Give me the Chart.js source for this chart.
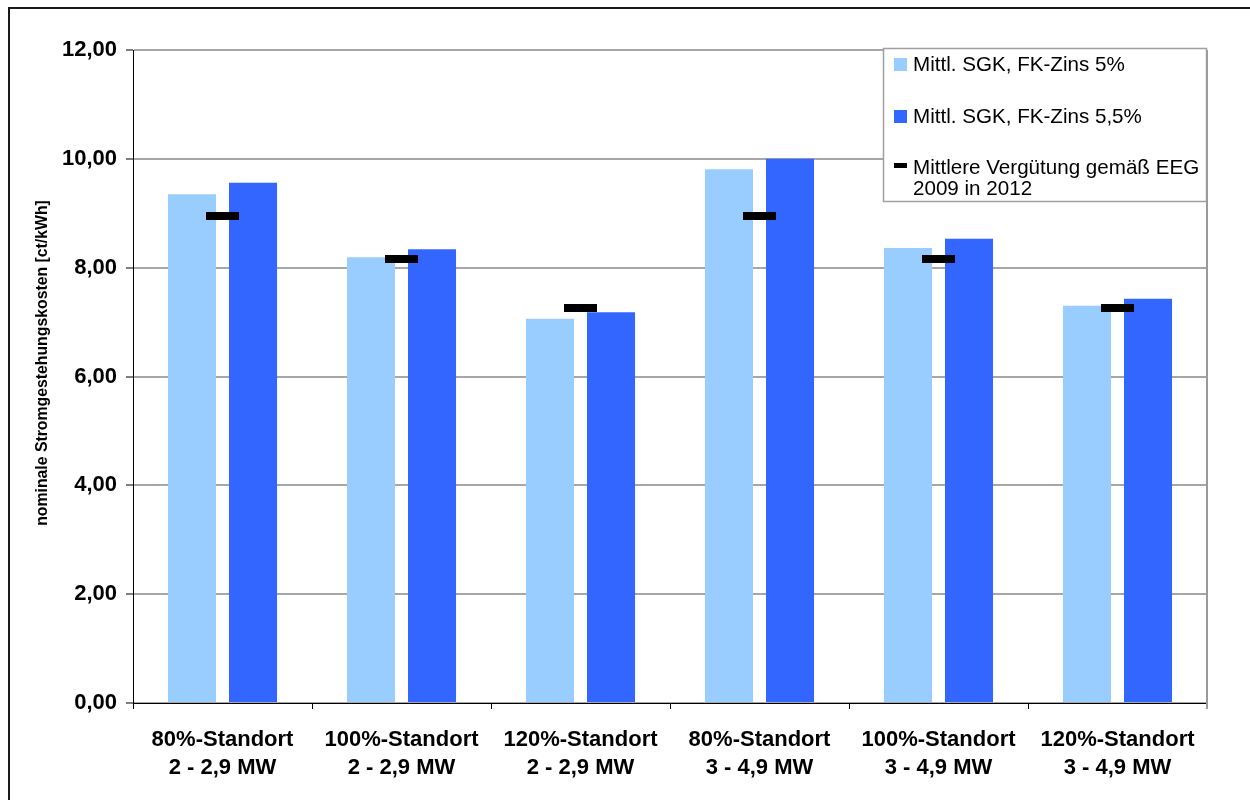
<!DOCTYPE html>
<html>
<head>
<meta charset="utf-8">
<script src="https://cdn.jsdelivr.net/npm/chart.js@4/dist/chart.umd.min.js"></script>
<style>
  html, body { margin: 0; padding: 0; background: #fff; }
  #wrap { width: 1250px; height: 800px; }
</style>
</head>
<body>
<div id="wrap"><canvas id="c" width="1250" height="800"></canvas></div>
<script>
// Standorte und Anlagenklassen
const categories = [
  ['80%-Standort', '2 - 2,9 MW'],
  ['100%-Standort', '2 - 2,9 MW'],
  ['120%-Standort', '2 - 2,9 MW'],
  ['80%-Standort', '3 - 4,9 MW'],
  ['100%-Standort', '3 - 4,9 MW'],
  ['120%-Standort', '3 - 4,9 MW']
];

// Mittlere Stromgestehungskosten in ct/kWh
const sgkZins5 = [9.35, 8.19, 7.06, 9.81, 8.36, 7.30];
const sgkZins55 = [9.56, 8.34, 7.18, 10.00, 8.53, 7.43];
// Mittlere Vergütung gemäß EEG 2009 in 2012
const verguetung = [8.95, 8.16, 7.26, 8.95, 8.16, 7.26];

const seriesNames = [
  'Mittl. SGK, FK-Zins 5%',
  'Mittl. SGK, FK-Zins 5,5%',
  ['Mittlere Vergütung gemäß EEG', '2009 in 2012']
];

const yTickValues = [0, 2, 4, 6, 8, 10, 12];
const yTitle = 'nominale Stromgestehungskosten [ct/kWh]';

const COL_LIGHT = '#99CCFF';
const COL_DARK = '#3366FF';
const FONT = "'Liberation Sans', Arial, Helvetica, sans-serif";

Chart.defaults.font.family = FONT;
Chart.defaults.color = '#000';

// Achsentitel, Rahmen, rechte Diagrammkante und Legende
const decorations = {
  id: 'decorations',
  afterDraw(chart) {
    const { ctx, chartArea: a } = chart;
    ctx.save();

    // Achsentitel (senkrecht)
    ctx.save();
    ctx.translate(43, 363);
    ctx.rotate(-Math.PI / 2);
    ctx.font = 'bold 15.8px ' + FONT;
    ctx.fillStyle = '#000';
    ctx.textAlign = 'center';
    ctx.textBaseline = 'middle';
    ctx.fillText(yTitle, 0, 0);
    ctx.restore();

    // rechte Begrenzung der Zeichenfläche
    ctx.strokeStyle = '#9a9a9a';
    ctx.lineWidth = 2;
    ctx.beginPath();
    ctx.moveTo(a.right, a.top);
    ctx.lineTo(a.right, a.bottom + 6);
    ctx.stroke();

    // äußerer Rahmen
    ctx.strokeStyle = '#1a1a1a';
    ctx.lineWidth = 2;
    ctx.strokeRect(9, 8, 1260, 810);

    // Legende
    const lx = 883, ly = 48, lw = a.right - 883, lh = 154;
    ctx.fillStyle = '#fff';
    ctx.fillRect(lx, ly, lw, lh);
    ctx.strokeStyle = '#a0a0a0';
    ctx.lineWidth = 1.5;
    ctx.strokeRect(lx + 0.5, ly + 0.5, lw - 1, lh - 1);

    ctx.font = '20.6px ' + FONT;
    ctx.textBaseline = 'middle';
    ctx.textAlign = 'left';
    const ds = chart.data.datasets;

    ctx.fillStyle = ds[0].backgroundColor;
    ctx.fillRect(894, 58, 13, 13);
    ctx.fillStyle = '#000';
    ctx.fillText(ds[0].label, 913, 65);

    ctx.fillStyle = ds[1].backgroundColor;
    ctx.fillRect(894, 110, 13, 13);
    ctx.fillStyle = '#000';
    ctx.fillText(ds[1].label, 913, 117);

    ctx.fillStyle = ds[2].pointBorderColor;
    ctx.fillRect(894, 163, 13, 5);
    ctx.fillStyle = '#000';
    ds[2].label.forEach((t, i) => ctx.fillText(t, 913, 168 + i * 21));

    ctx.restore();
  }
};

new Chart(document.getElementById('c'), {
  type: 'bar',
  data: {
    labels: categories,
    datasets: [
      {
        label: seriesNames[0],
        data: sgkZins5,
        backgroundColor: COL_LIGHT,
        categoryPercentage: 0.682,
        barPercentage: 0.787,
        order: 2
      },
      {
        label: seriesNames[1],
        data: sgkZins55,
        backgroundColor: COL_DARK,
        categoryPercentage: 0.682,
        barPercentage: 0.787,
        order: 2
      },
      {
        type: 'line',
        label: seriesNames[2],
        data: verguetung,
        showLine: false,
        pointStyle: 'line',
        pointRadius: 16.5,
        pointHoverRadius: 16.5,
        pointBorderWidth: 8,
        pointBorderColor: '#000',
        pointBackgroundColor: '#000',
        order: 1
      }
    ]
  },
  options: {
    responsive: false,
    animation: false,
    events: [],
    layout: { padding: { left: 0, top: 50, right: 43, bottom: 0 } },
    plugins: {
      legend: { display: false },
      tooltip: { enabled: false }
    },
    scales: {
      x: {
        offset: true,
        afterFit(s) { s.height = 97; },
        grid: {
          offset: true,
          drawOnChartArea: false,
          drawTicks: true,
          tickLength: 6,
          tickColor: '#000',
          tickWidth: 1
        },
        border: { color: '#000', width: 1 },
        ticks: {
          maxRotation: 0,
          autoSkip: false,
          padding: 17,
          font: { size: 22, weight: 'bold', lineHeight: 1.27 },
          color: '#000'
        }
      },
      y: {
        min: 0,
        max: 12,
        afterFit(s) { s.width = 133; },
        afterBuildTicks(s) { s.ticks = yTickValues.map(v => ({ value: v })); },
        grid: {
          color: '#a6a6a6',
          lineWidth: 2,
          drawTicks: true,
          tickLength: 7,
          tickColor: '#000',
          tickWidth: 1
        },
        border: { color: '#000', width: 1 },
        ticks: {
          padding: 9,
          font: { size: 22, weight: 'bold' },
          color: '#000',
          callback: v => v.toFixed(2).replace('.', ',')
        },
        title: { display: false }
      }
    }
  },
  plugins: [decorations]
});
</script>
</body>
</html>
